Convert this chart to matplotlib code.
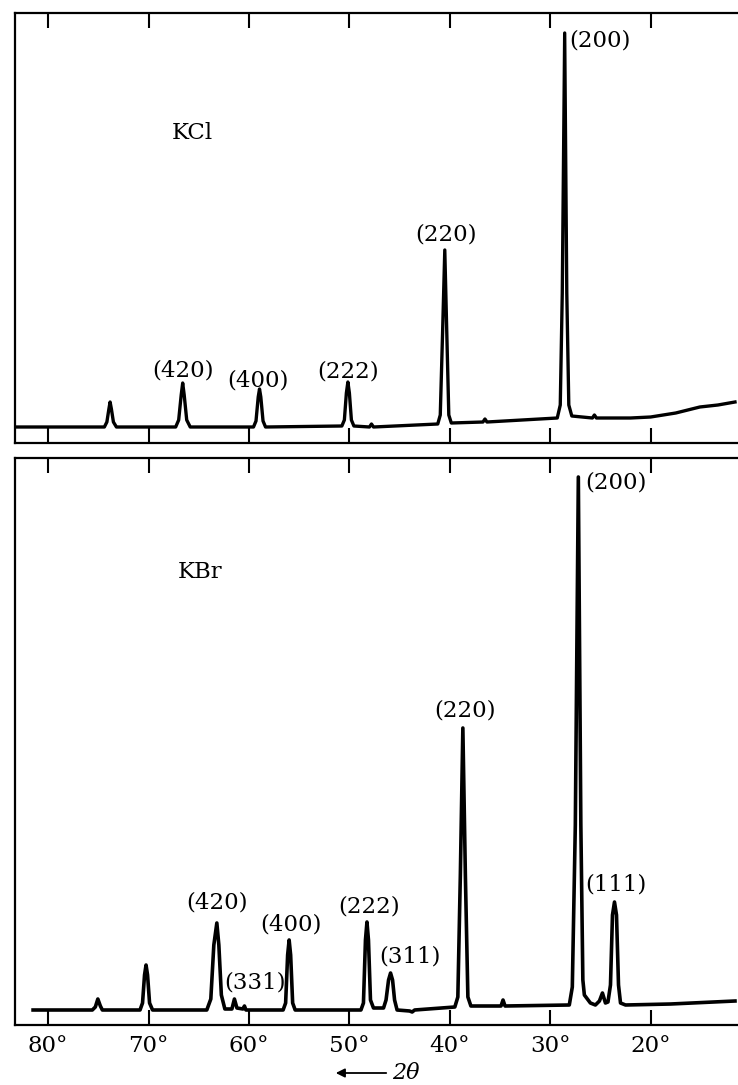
import matplotlib
matplotlib.use('Agg')
import matplotlib.pyplot as plt

plt.rcParams['font.family'] = ['DejaVu Serif']

# KCl trace: 2-theta (deg) and intensity (arbitrary units)
kcl_2theta = [83.3, 74.4, 74.15, 73.95, 73.83, 73.7, 73.5, 73.2,
              67.3, 67.0, 66.75, 66.6, 66.45, 66.2, 65.85,
              59.55, 59.3, 59.08, 58.95, 58.82, 58.6, 58.35,
              50.75, 50.5, 50.3, 50.15, 50.0, 49.8, 49.55,
              48.0, 47.8, 47.6,
              41.2, 40.95, 40.72, 40.5, 40.3, 40.1, 39.85,
              36.7, 36.5, 36.3,
              29.3, 29.0, 28.8, 28.56, 28.35, 28.15, 27.85,
              25.8, 25.6, 25.4, 22.0, 20.0, 17.5, 15.1, 13.3, 11.6]
kcl_int = [16, 16, 21, 34, 41, 34, 21, 16,
           16, 23, 48, 60, 48, 23, 16,
           16, 22, 46, 54, 46, 22, 16,
           17, 23, 50, 61, 50, 23, 17,
           16, 19, 16,
           19, 28, 110, 193, 110, 28, 20,
           21, 24, 21,
           25, 38, 150, 410, 150, 38, 27,
           25, 28, 25, 25, 26, 30, 36, 38, 41]

# KBr trace
kbr_2theta = [81.5, 75.6, 75.3, 75.05, 74.8, 74.6,
              70.85, 70.6, 70.4, 70.25, 70.1, 69.9, 69.6,
              64.2, 63.8, 63.5, 63.2, 63.0, 62.75, 62.4,
              61.7, 61.45, 61.2, 60.6, 60.45, 60.3,
              56.6, 56.35, 56.15, 56.0, 55.85, 55.65, 55.4,
              48.85, 48.6, 48.4, 48.25, 48.1, 47.9, 47.6,
              46.6, 46.35, 46.1, 45.9, 45.7, 45.5, 45.25,
              44.0, 43.75, 43.5,
              39.5, 39.2, 38.95, 38.7, 38.45, 38.2, 37.9,
              34.9, 34.7, 34.5,
              28.1, 27.8, 27.5, 27.2, 26.95, 26.75, 26.6,
              26.0, 25.5, 25.1, 24.8, 24.5, 24.25,
              24.0, 23.8, 23.6, 23.4, 23.2, 23.0,
              22.5, 18.0, 11.6]
kbr_int = [15, 15, 18, 26, 19, 15,
           15, 22, 50, 60, 50, 22, 15,
           15, 26, 80, 102, 80, 30, 16,
           16, 26, 17, 16, 19, 15,
           15, 22, 70, 85, 70, 22, 15,
           15, 22, 85, 103, 85, 25, 17,
           17, 25, 45, 52, 45, 25, 15,
           14, 13, 15,
           18, 28, 150, 297, 150, 28, 19,
           19, 25, 19,
           20, 38, 200, 548, 200, 45, 30,
           22, 20, 24, 32, 22, 23,
           40, 110, 123, 110, 40, 22,
           20, 21, 24]

kcl_labels = ['(420)', '(400)', '(222)', '(220)', '(200)']
kcl_label_x = [66.57, 59.1, 50.1, 40.4, 25.0]
kcl_label_y = [73, 63, 72, 208, 402]

kbr_labels = ['(420)', '(331)', '(400)', '(222)', '(311)', '(220)', '(200)', '(111)']
kbr_label_x = [63.2, 59.4, 55.8, 48.0, 44.0, 38.5, 23.5, 23.5]
kbr_label_y = [122, 43, 100, 119, 69, 314, 542, 141]

ticks = [80, 70, 60, 50, 40, 30, 20]

W, H = 738, 1085
fig = plt.figure(figsize=(W / 100, H / 100), dpi=100)
ax1 = fig.add_axes([15 / W, 1 - 443 / H, 723 / W, 430 / H])
ax2 = fig.add_axes([15 / W, 1 - 1025 / H, 723 / W, 567 / H])

for ax, ylim in [(ax1, 430), (ax2, 567)]:
    ax.set_xlim(83.3, 11.3)
    ax.set_ylim(0, ylim)
    ax.spines['right'].set_visible(False)
    for s in ['top', 'left', 'bottom']:
        ax.spines[s].set_linewidth(1.6)
    ax.set_xticks(ticks)
    ax.set_yticks([])
    ax.tick_params(axis='x', direction='in', length=10.5, width=1.5, top=True)

ax1.plot(kcl_2theta, kcl_int, color='black', lw=2.4, solid_joinstyle='round')
ax2.plot(kbr_2theta, kbr_int, color='black', lw=2.6, solid_joinstyle='round')

ax1.tick_params(axis='x', labelbottom=False)
ax2.set_xticklabels([f'{t}°' for t in ticks], fontsize=16.5)
ax2.tick_params(axis='x', pad=7)

ax1.text(65.6, 310, 'KCl', fontsize=16.5, ha='center', va='center')
ax2.text(64.9, 453, 'KBr', fontsize=16.5, ha='center', va='center')

for lab, x, y in zip(kcl_labels, kcl_label_x, kcl_label_y):
    ax1.text(x, y, lab, fontsize=16.5, ha='center', va='center')
for lab, x, y in zip(kbr_labels, kbr_label_x, kbr_label_y):
    ax2.text(x, y, lab, fontsize=16.5, ha='center', va='center')

fig.patches.append(matplotlib.patches.FancyArrowPatch(
    (389 / W, 1 - 1073 / H), (333 / W, 1 - 1073 / H),
    transform=fig.transFigure, arrowstyle='-|>', mutation_scale=13,
    color='black', lw=1.3))
fig.text(406 / W, 1 - 1073 / H, '2θ', fontsize=16, style='italic',
         ha='center', va='center')

fig.savefig('out.png', dpi=100)
